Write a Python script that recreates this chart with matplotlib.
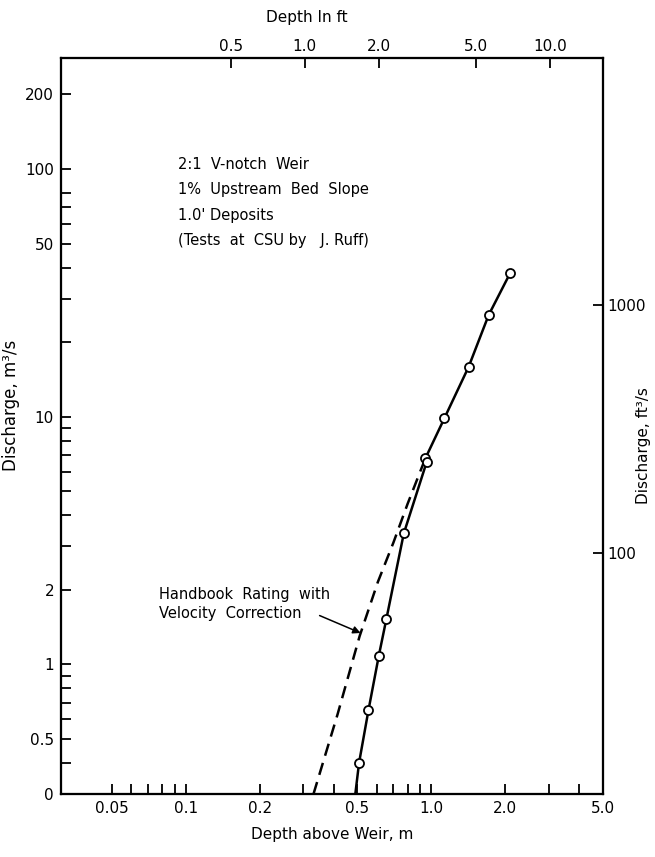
import matplotlib
matplotlib.use("Agg")
import matplotlib.pyplot as plt
from matplotlib.ticker import FixedLocator, NullFormatter, NullLocator

plt.rcParams['font.family'] = ['DejaVu Sans']

# CSU flume tests: depth above weir (m) and measured discharge (m3/s)
test_depth = [2.09, 1.71, 1.418, 1.129, 0.945, 0.957, 0.772, 0.656, 0.611, 0.554, 0.5075]
test_q = [37.9, 25.7, 15.9, 9.85, 6.79, 6.57, 3.38, 1.53, 1.087, 0.652, 0.401]
# fitted curve carried down to the bottom of the chart
curve_end_depth = 0.49
curve_end_q = 0.30

# handbook rating with velocity correction
hb_depth = [0.331, 0.415, 0.51, 0.605, 0.70, 0.80, 0.945]
hb_q = [0.30, 0.63, 1.30, 2.15, 3.10, 4.45, 6.79]

notes = ["2:1  V-notch  Weir",
         "1%  Upstream  Bed  Slope",
         "1.0' Deposits",
         "(Tests  at  CSU by   J. Ruff)"]
hb_label = "Handbook  Rating  with\nVelocity  Correction"
hb_arrow_tail = (0.3505, 1.576)
hb_arrow_head = (0.515, 1.34)

x_major = [0.05, 0.1, 0.2, 0.5, 1.0, 2.0, 5.0]
x_major_labels = ["0.05", "0.1", "0.2", "0.5", "1.0", "2.0", "5.0"]
x_minor = [0.06, 0.07, 0.08, 0.09, 0.3, 0.4, 0.6, 0.7, 0.8, 0.9, 3.0, 4.0]
y_major = [0.3, 0.5, 1, 2, 10, 50, 100, 200]
y_major_labels = ["0", "0.5", "1", "2", "10", "50", "100", "200"]
y_minor = [0.4, 0.6, 0.7, 0.8, 0.9, 3, 4, 5, 6, 7, 8, 9, 20, 30, 40, 60, 70, 80]
ft_ticks = [0.5, 1.0, 2.0, 5.0, 10.0]
ft_labels = ["0.5", "1.0", "2.0", "5.0", "10.0"]
cfs_ticks = [100, 1000]
cfs_labels = ["100", "1000"]

XLIM = (0.031, 5.0)
YLIM = (0.3, 280)
M_PER_FT = 0.3048
CFS_PER_CMS = 35.3147

fig = plt.figure(figsize=(6.55, 8.57), dpi=100)
ax = fig.add_axes([0.0931, 0.0735, 0.8275, 0.8585])
ax.set_xscale('log')
ax.set_yscale('log')
ax.set_xlim(*XLIM)
ax.set_ylim(*YLIM)

# test points and fitted curve
ax.plot(test_depth + [curve_end_depth], test_q + [curve_end_q],
        color='black', lw=1.8, zorder=3)
ax.plot(test_depth, test_q, ls='none', marker='o', ms=6.5,
        mfc='white', mec='black', mew=1.3, zorder=4)

# handbook rating
ax.plot(hb_depth, hb_q, color='black', lw=1.8, dashes=(5, 3), zorder=2)

ax.annotate("", xy=hb_arrow_head, xytext=hb_arrow_tail,
            arrowprops=dict(arrowstyle='-|>', color='black', lw=1.1,
                            mutation_scale=11, shrinkA=0, shrinkB=0))
ax.text(0.181, 0.281, hb_label, transform=ax.transAxes, fontsize=10.5,
        ha='left', va='top', linespacing=1.3)
ax.text(0.216, 0.8655, "\n".join(notes), transform=ax.transAxes,
        fontsize=10.5, ha='left', va='top', linespacing=1.85)

# bottom / left axes
ax.xaxis.set_major_locator(FixedLocator(x_major))
ax.set_xticklabels(x_major_labels)
ax.xaxis.set_minor_locator(FixedLocator(x_minor))
ax.xaxis.set_minor_formatter(NullFormatter())
ax.yaxis.set_major_locator(FixedLocator(y_major))
ax.set_yticklabels(y_major_labels)
ax.yaxis.set_minor_locator(FixedLocator(y_minor))
ax.yaxis.set_minor_formatter(NullFormatter())
ax.tick_params(which='both', direction='in', length=7, width=1.3,
               labelsize=11, pad=5)
ax.set_xlabel("Depth above Weir, m", fontsize=11)
ax.xaxis.set_label_coords(0.5, -0.045)
ax.set_ylabel("Discharge, m³/s", fontsize=12)
ax.yaxis.set_label_coords(-0.0756, 0.5285)

# discharge in cubic feet per second on the right
ax_r = ax.twinx()
ax_r.set_yscale('log')
ax_r.set_ylim(YLIM[0] * CFS_PER_CMS, YLIM[1] * CFS_PER_CMS)
ax_r.yaxis.set_major_locator(FixedLocator(cfs_ticks))
ax_r.set_yticklabels(cfs_labels)
ax_r.yaxis.set_minor_locator(NullLocator())
ax_r.tick_params(which='both', direction='in', length=7, width=1.3,
                 labelsize=11, pad=3)
ax_r.set_ylabel("Discharge, ft³/s", fontsize=11, rotation=90)
ax_r.yaxis.set_label_coords(1.060, 0.474)

# depth in feet along the top
ax_t = ax.twiny()
ax_t.set_xscale('log')
ax_t.set_xlim(XLIM[0] / M_PER_FT, XLIM[1] / M_PER_FT)
ax_t.xaxis.set_major_locator(FixedLocator(ft_ticks))
ax_t.set_xticklabels(ft_labels)
ax_t.xaxis.set_minor_locator(NullLocator())
ax_t.tick_params(which='both', direction='in', length=7, width=1.3,
                 labelsize=11, pad=3)
ax_t.set_xlabel("Depth In ft", fontsize=11)
ax_t.xaxis.set_label_coords(0.454, 1.049)

for a in (ax, ax_r, ax_t):
    for sp in a.spines.values():
        sp.set_linewidth(1.5)

fig.savefig("out.png", dpi=100)
